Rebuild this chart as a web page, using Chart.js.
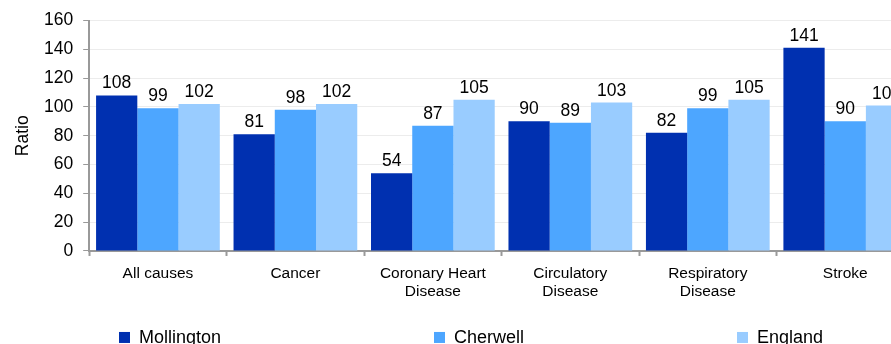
<!DOCTYPE html>
<html>
<head>
<meta charset="utf-8">
<script src="https://cdn.jsdelivr.net/npm/chart.js@4"></script>
<style>
  html, body { margin: 0; padding: 0; background: #fff; overflow: hidden; }
  #wrap { width: 920px; height: 360px; }
</style>
</head>
<body>
<div id="wrap"><canvas id="myChart"></canvas></div>
<script>
const categories = [['All causes'], ['Cancer'], ['Coronary Heart', 'Disease'], ['Circulatory', 'Disease'], ['Respiratory', 'Disease'], ['Stroke']];
const mollington = [108, 81, 54, 90, 82, 141];
const cherwell = [99, 98, 87, 89, 99, 90];
const england = [102, 102, 105, 103, 105, 101];
const seriesNames = ['Mollington', 'Cherwell', 'England'];
const seriesColors = ['#0030b0', '#4da6ff', '#99ccff'];

const FONT = '"Liberation Sans", Arial, sans-serif';

// value labels above each bar
const barLabels = {
  id: 'barLabels',
  afterDatasetsDraw(chart) {
    const ctx = chart.ctx;
    ctx.save();
    ctx.font = '17.5px ' + FONT;
    ctx.fillStyle = '#000';
    ctx.textAlign = 'center';
    ctx.textBaseline = 'bottom';
    chart.data.datasets.forEach((ds, i) => {
      chart.getDatasetMeta(i).data.forEach((bar, j) => {
        ctx.fillText(ds.data[j], bar.x, bar.y - 3);
      });
    });
    ctx.restore();
  }
};

// legend spread across the bottom
const spreadLegend = {
  id: 'spreadLegend',
  afterDraw(chart) {
    const ctx = chart.ctx;
    const y = chart.chartArea.bottom + 86;
    const starts = [119, 434, 737];
    ctx.save();
    ctx.font = '18px ' + FONT;
    ctx.textBaseline = 'middle';
    chart.data.datasets.forEach((ds, i) => {
      const x = starts[i];
      ctx.fillStyle = ds.backgroundColor;
      ctx.fillRect(x, y - 5, 11, 11);
      ctx.fillStyle = '#000';
      ctx.fillText(ds.label, x + 20, y + 1);
    });
    ctx.restore();
  }
};

const context = document.getElementById('myChart').getContext('2d');
const myChart = new Chart(context, {
  type: 'bar',
  data: {
    labels: categories,
    datasets: [
      { label: seriesNames[0], data: mollington, backgroundColor: seriesColors[0] },
      { label: seriesNames[1], data: cherwell, backgroundColor: seriesColors[1] },
      { label: seriesNames[2], data: england, backgroundColor: seriesColors[2] },
    ],
  },
  options: {
    responsive: true,
    maintainAspectRatio: false,
    animation: false,
    layout: { padding: { top: 18, right: 6, bottom: 51, left: 10 } },
    datasets: { bar: { categoryPercentage: 0.9, barPercentage: 1.0 } },
    plugins: {
      legend: { display: false },
      tooltip: { enabled: false },
    },
    scales: {
      x: {
        grid: { display: true, drawOnChartArea: false, tickLength: 5, tickColor: '#999', tickWidth: 2 },
        border: { color: '#999', width: 2 },
        ticks: { color: '#000', font: { family: FONT, size: 15.5, lineHeight: 1.13 }, maxRotation: 0, padding: 9 },
      },
      y: {
        min: 0,
        max: 160,
        ticks: { stepSize: 20, color: '#000', font: { family: FONT, size: 17.5 }, padding: 10 },
        grid: { color: '#ececec', lineWidth: 1, tickLength: 6, tickColor: '#999' },
        border: { color: '#999', width: 2 },
        title: { display: true, text: 'Ratio', color: '#000', font: { family: FONT, size: 17.5 }, padding: { top: 3, bottom: 0 } },
      },
    },
  },
  plugins: [barLabels, spreadLegend],
});
</script>
</body>
</html>
